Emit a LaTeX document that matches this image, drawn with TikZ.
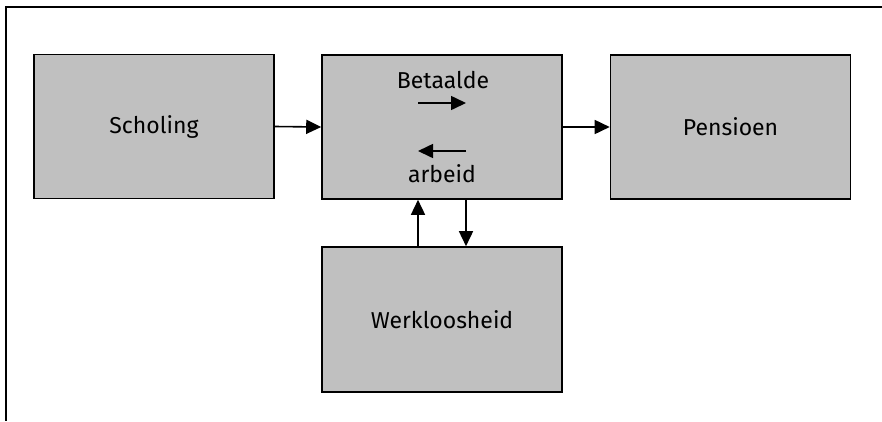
\documentclass[tikz,border=0pt]{standalone}
\usepackage{fontspec}
\setmainfont{Fira Sans}
\usetikzlibrary{arrows.meta}
\begin{document}
\begin{tikzpicture}[x=1pt,y=-1pt,
  stage/.style={draw=black, line width=1.6pt, fill=boxgray, minimum width=240pt,
    minimum height=144pt, inner sep=0pt, font=\fontsize{23}{27}\selectfont},
  lbl/.style={inner sep=0pt, font=\fontsize{23}{27}\selectfont},
  flow/.style={line width=1.6pt, -{Triangle[length=15pt,width=14pt]}},
]
\definecolor{boxgray}{HTML}{C0C0C0}
\useasboundingbox (0,0) rectangle (882,421);
% open frame: top and left edge only
\draw[line width=2.2pt] (882,7) -- (6,7) -- (6,421);

\node[stage] (school) at (154,126.5) {Scholing};
\node[stage] (work) at (442,127) {};
\node[stage] (pension) at (730.5,127) {Pensioen};
\node[stage, minimum height=145pt] (unemp) at (442,319.5) {Werkloosheid};

\node[lbl] (paid) at (443,80) {Betaalde};
\node[lbl] (labour) at (442,174) {arbeid};

\coordinate (ra) at (418,103);
\coordinate (rb) at (466,103);
\coordinate (la) at (466,151);
\coordinate (lb) at (418,151);
\draw[flow] (ra) -- (rb);
\draw[flow] (la) -- (lb);

\draw[flow] (school.east) -- (work.west);
\draw[flow] (work.east) -- (pension.west);
\draw[flow] ([xshift=-24pt]unemp.north) -- ([xshift=-24pt]work.south);
\draw[flow] ([xshift=24pt]work.south) -- ([xshift=24pt]unemp.north);
\end{tikzpicture}
\end{document}
